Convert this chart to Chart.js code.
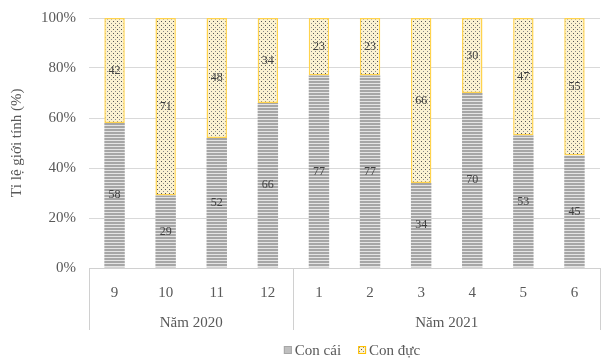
<!DOCTYPE html>
<html>
<head>
<meta charset="utf-8">
<script src="https://cdn.jsdelivr.net/npm/chart.js@4"></script>
<style>
    html, body { margin: 0; padding: 0; background: #fff; }
    #wrap { width: 605px; height: 359px; }
</style>
</head>
<body>
<div id="wrap"><canvas id="sexChart" width="605" height="359"></canvas></div>
<script>
// Chart data
const months = ['9', '10', '11', '12', '1', '2', '3', '4', '5', '6'];
const yearGroups = ['Năm 2020', 'Năm 2021'];
const yearGroupSizes = [4, 6];
const femaleValues = [58, 29, 52, 66, 77, 77, 34, 70, 53, 45];
const maleValues = [42, 71, 48, 34, 23, 23, 66, 30, 47, 55];
const yTicks = [0, 20, 40, 60, 80, 100];

const serif = '"Liberation Serif", "Times New Roman", serif';
const textGray = '#595959';

// Fill patterns
function stripePattern() {
    const c = document.createElement('canvas');
    c.width = 4; c.height = 3;
    const g = c.getContext('2d');
    g.fillStyle = '#e4e4e4';
    g.fillRect(0, 0, 4, 3);
    g.fillStyle = '#a6a6a6';
    g.fillRect(0, 0, 4, 2);
    return g.createPattern(c, 'repeat');
}

function dotPattern() {
    const c = document.createElement('canvas');
    c.width = 4; c.height = 4;
    const g = c.getContext('2d');
    g.fillStyle = '#fbf2d2';
    g.fillRect(0, 0, 4, 4);
    g.fillStyle = '#555555';
    g.fillRect(1, 1, 1, 1);
    g.fillStyle = '#8a8a8a';
    g.fillRect(3, 3, 1, 1);
    return g.createPattern(c, 'repeat');
}

const femaleFill = stripePattern();
const maleFill = dotPattern();

// Values inside segments, group labels under the axis, legend
const extrasPlugin = {
    id: 'extras',
    afterDatasetsDraw(chart) {
        const ctx = chart.ctx;
        ctx.save();
        ctx.font = '12px ' + serif;
        ctx.fillStyle = '#404040';
        ctx.textAlign = 'center';
        ctx.textBaseline = 'middle';
        chart.data.datasets.forEach((ds, i) => {
            chart.getDatasetMeta(i).data.forEach((bar, j) => {
                const mid = (bar.y + bar.base) / 2;
                ctx.fillText(ds.data[j], bar.x, mid);
            });
        });
        ctx.restore();
    },
    afterDraw(chart) {
        const ctx = chart.ctx;
        const area = chart.chartArea;
        const x = chart.scales.x;
        const slot = (area.right - area.left) / months.length;
        ctx.save();
        // separators
        ctx.strokeStyle = '#d0d0d0';
        ctx.lineWidth = 1;
        let idx = 0;
        const edges = [area.left];
        yearGroupSizes.forEach(n => { idx += n; edges.push(area.left + idx * slot); });
        edges.forEach(px => {
            const xx = Math.round(px) + 0.5;
            ctx.beginPath();
            ctx.moveTo(xx, area.bottom);
            ctx.lineTo(xx, area.bottom + 62);
            ctx.stroke();
        });
        // group labels
        ctx.font = '15px ' + serif;
        ctx.fillStyle = textGray;
        ctx.textAlign = 'center';
        ctx.textBaseline = 'middle';
        let start = 0;
        yearGroups.forEach((name, g) => {
            const end = start + yearGroupSizes[g] - 1;
            const cx = (x.getPixelForValue(start) + x.getPixelForValue(end)) / 2;
            ctx.fillText(name, cx, area.bottom + 55);
            start = end + 1;
        });
        // legend
        const ly = area.bottom + 82;
        const items = [
            { text: 'Con cái', fill: '#bfbfbf', border: '#a6a6a6' },
            { text: 'Con đực', fill: maleFill, border: '#ffc000' }
        ];
        ctx.font = '15px ' + serif;
        ctx.textAlign = 'left';
        const widths = items.map(it => 12 + ctx.measureText(it.text).width);
        const total = widths[0] + widths[1] + 16;
        let lx = (area.left + area.right) / 2 - total / 2 + 8;
        items.forEach((it, k) => {
            ctx.fillStyle = it.fill;
            ctx.fillRect(lx, ly - 4, 8, 8);
            ctx.strokeStyle = it.border;
            ctx.lineWidth = 1;
            ctx.strokeRect(lx + 0.5, ly - 3.5, 7, 7);
            ctx.fillStyle = textGray;
            ctx.fillText(it.text, lx + 11, ly + 1);
            lx += widths[k] + 16;
        });
        ctx.restore();
    }
};

new Chart(document.getElementById('sexChart'), {
    type: 'bar',
    data: {
        labels: months,
        datasets: [
            {
                label: 'Con cái',
                data: femaleValues,
                backgroundColor: femaleFill,
                borderWidth: 0,
                barPercentage: 0.4,
                categoryPercentage: 1
            },
            {
                label: 'Con đực',
                data: maleValues,
                backgroundColor: maleFill,
                borderColor: '#ffd34d',
                borderWidth: 1.5,
                borderSkipped: false,
                barPercentage: 0.4,
                categoryPercentage: 1
            }
        ]
    },
    options: {
        responsive: false,
        animation: false,
        layout: { padding: { left: 8, right: 5, top: 18, bottom: 0 } },
        plugins: {
            legend: { display: false },
            tooltip: { enabled: false }
        },
        scales: {
            x: {
                stacked: true,
                grid: { display: false },
                border: { color: '#d0d0d0' },
                ticks: {
                    color: textGray,
                    font: { family: serif, size: 15 },
                    padding: 8,
                    maxRotation: 0
                },
                afterFit(scale) { scale.height = 91; }
            },
            y: {
                stacked: true,
                min: 0,
                max: 100,
                afterBuildTicks(scale) { scale.ticks = yTicks.map(v => ({ value: v })); },
                grid: { color: '#d9d9d9', drawTicks: false },
                border: { display: false },
                ticks: {
                    color: textGray,
                    font: { family: serif, size: 15 },
                    padding: 13,
                    callback: v => v + '%'
                },
                title: {
                    display: true,
                    text: 'Tỉ lệ giới tính (%)',
                    color: textGray,
                    font: { family: serif, size: 15 },
                    padding: { top: 0, bottom: 2 }
                },
                afterFit(scale) {
                    scale.width = 81;
                    scale.paddingTop = 0;
                    scale.paddingBottom = 0;
                }
            }
        }
    },
    plugins: [extrasPlugin]
});
</script>
</body>
</html>
